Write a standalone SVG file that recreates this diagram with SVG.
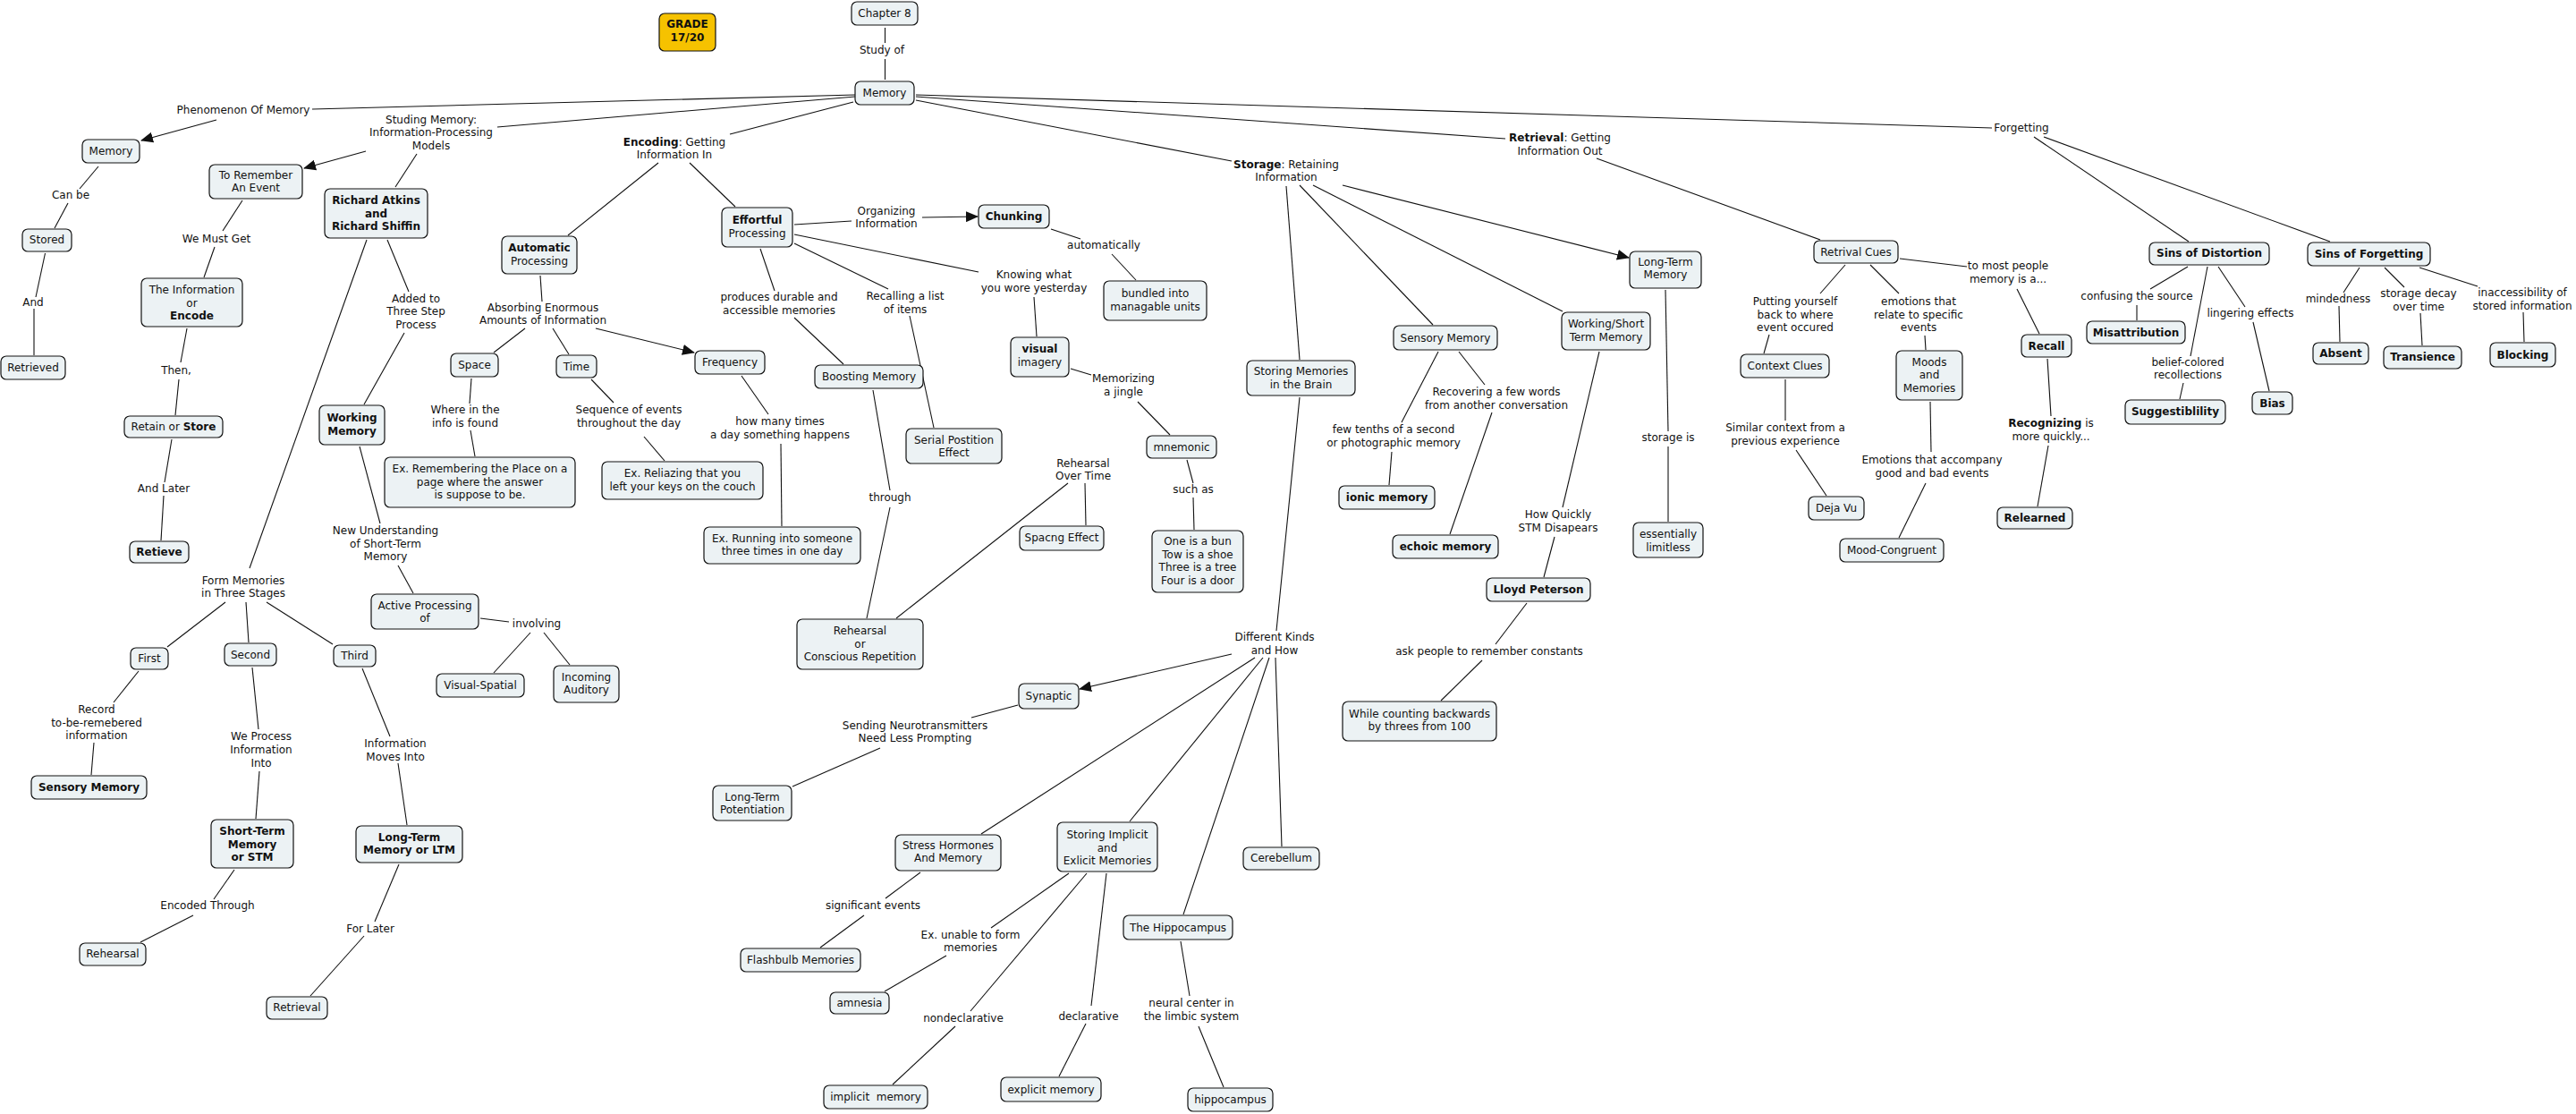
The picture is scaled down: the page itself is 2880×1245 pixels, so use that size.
<svg xmlns="http://www.w3.org/2000/svg" width="2880" height="1245" viewBox="0 0 2880 1245">
<style>
text{font-family:"DejaVu Sans","Verdana",sans-serif;font-size:12px;fill:#111;text-anchor:middle}
.n rect{fill:#ecf2f4;stroke:#111;stroke-width:1.2}
.g rect{fill:#f6c200;stroke:#111;stroke-width:1.2}
.b{font-weight:bold}
#connectors line{stroke:#111;stroke-width:1.1}
</style>
<defs>
<marker id="arr" markerWidth="14" markerHeight="12" refX="13" refY="6" orient="auto" markerUnits="userSpaceOnUse"><path d="M0,0 L14,6 L0,12 z" fill="#111"/></marker>
</defs>
<rect width="2880" height="1245" fill="#fff"/>
<g id="connectors">
<line x1="989.5" y1="31" x2="989.5" y2="48"/><line x1="989.5" y1="66" x2="989.5" y2="89"/>
<line x1="956" y1="106" x2="349" y2="122"/>
<line x1="242" y1="134" x2="158" y2="157" marker-end="url(#arr)"/>
<line x1="956" y1="108" x2="556" y2="142"/>
<line x1="409" y1="169" x2="340" y2="188" marker-end="url(#arr)"/>
<line x1="466" y1="172" x2="442" y2="209"/>
<line x1="954" y1="114" x2="816" y2="150"/>
<line x1="736" y1="182" x2="635" y2="263"/>
<line x1="771" y1="182" x2="822" y2="231"/>
<line x1="1024" y1="112" x2="1377" y2="180"/>
<line x1="1024" y1="108" x2="1683" y2="155"/>
<line x1="1024" y1="106" x2="2227" y2="143"/>
<line x1="110" y1="186" x2="89" y2="211"/><line x1="76" y1="227" x2="61" y2="255"/>
<line x1="50.5" y1="283" x2="40" y2="332"/><line x1="38" y1="345" x2="38" y2="397"/>
<line x1="271" y1="224" x2="249" y2="258"/><line x1="240" y1="276" x2="228" y2="310"/>
<line x1="209" y1="367" x2="202" y2="405"/><line x1="200" y1="424" x2="196" y2="464"/>
<line x1="192" y1="491" x2="184" y2="539"/><line x1="183" y1="554" x2="180" y2="604"/>
<line x1="410" y1="268" x2="279" y2="635"/>
<line x1="433" y1="268" x2="457" y2="326"/><line x1="452" y1="372" x2="407" y2="452"/>
<line x1="402" y1="499" x2="425" y2="585"/><line x1="445" y1="632" x2="462" y2="663"/>
<line x1="537" y1="691" x2="569" y2="695"/><line x1="593" y1="707" x2="552" y2="752"/><line x1="608" y1="707" x2="637" y2="743"/>
<line x1="252" y1="673" x2="187" y2="723"/><line x1="275" y1="673" x2="278" y2="718"/><line x1="298" y1="673" x2="372" y2="720"/>
<line x1="155" y1="750" x2="127" y2="785"/><line x1="105" y1="830" x2="102" y2="866"/>
<line x1="282" y1="746" x2="289" y2="815"/><line x1="290" y1="862" x2="286" y2="915"/>
<line x1="405" y1="747" x2="436" y2="823"/><line x1="445" y1="853" x2="455" y2="922"/>
<line x1="262" y1="972" x2="239" y2="1005"/><line x1="216" y1="1023" x2="157" y2="1053"/>
<line x1="446" y1="966" x2="419" y2="1030"/><line x1="407" y1="1046" x2="347" y2="1113"/>
<line x1="604" y1="308" x2="606" y2="337"/>
<line x1="587" y1="367" x2="552" y2="394"/><line x1="618" y1="367" x2="636" y2="396"/>
<line x1="666" y1="367" x2="776" y2="394" marker-end="url(#arr)"/>
<line x1="527" y1="423" x2="525" y2="451"/><line x1="526" y1="481" x2="531" y2="510"/>
<line x1="661" y1="424" x2="686" y2="450"/><line x1="720" y1="488" x2="743" y2="515"/>
<line x1="829" y1="420" x2="859" y2="463"/><line x1="873" y1="496" x2="874" y2="588"/>
<line x1="888" y1="251" x2="952" y2="247"/>
<line x1="1031" y1="243" x2="1093" y2="242" marker-end="url(#arr)"/>
<line x1="1175" y1="256" x2="1208" y2="267"/><line x1="1243" y1="284" x2="1270" y2="313"/>
<line x1="888" y1="262" x2="1094" y2="304"/><line x1="1156" y1="332" x2="1159" y2="376"/>
<line x1="888" y1="272" x2="993" y2="323"/><line x1="1017" y1="353" x2="1044" y2="478"/>
<line x1="850" y1="278" x2="866" y2="325"/><line x1="888" y1="355" x2="943" y2="407"/>
<line x1="976" y1="436" x2="995" y2="548"/><line x1="995" y1="567" x2="969" y2="691"/>
<line x1="1002" y1="691" x2="1194" y2="540"/><line x1="1213" y1="540" x2="1214" y2="587"/>
<line x1="1197" y1="412" x2="1220" y2="419"/><line x1="1272" y1="449" x2="1308" y2="486"/>
<line x1="1327" y1="514" x2="1334" y2="540"/><line x1="1334" y1="556" x2="1335" y2="592"/>
<line x1="1438" y1="208" x2="1453" y2="402"/>
<line x1="1453" y1="207" x2="1602" y2="363"/>
<line x1="1468" y1="207" x2="1747" y2="348"/>
<line x1="1501" y1="207" x2="1821" y2="288" marker-end="url(#arr)"/>
<line x1="1453" y1="444" x2="1427" y2="705"/>
<line x1="1377" y1="731" x2="1207" y2="770" marker-end="url(#arr)"/>
<line x1="1138" y1="788" x2="1086" y2="802"/><line x1="984" y1="836" x2="886" y2="879"/>
<line x1="1403" y1="735" x2="1097" y2="932"/>
<line x1="1412" y1="735" x2="1263" y2="918"/>
<line x1="1419" y1="735" x2="1323" y2="1022"/>
<line x1="1426" y1="735" x2="1433" y2="946"/>
<line x1="1029" y1="975" x2="990" y2="1004"/><line x1="966" y1="1023" x2="917" y2="1059"/>
<line x1="1195" y1="976" x2="1108" y2="1037"/><line x1="1058" y1="1068" x2="989" y2="1108"/>
<line x1="1215" y1="976" x2="1085" y2="1130"/><line x1="1068" y1="1147" x2="998" y2="1212"/>
<line x1="1237" y1="976" x2="1220" y2="1124"/><line x1="1214" y1="1144" x2="1184" y2="1203"/>
<line x1="1320" y1="1052" x2="1330" y2="1113"/><line x1="1340" y1="1147" x2="1368" y2="1215"/>
<line x1="1608" y1="393" x2="1567" y2="472"/><line x1="1556" y1="505" x2="1553" y2="542"/>
<line x1="1631" y1="393" x2="1660" y2="430"/><line x1="1668" y1="461" x2="1621" y2="597"/>
<line x1="1788" y1="393" x2="1747" y2="567"/><line x1="1738" y1="600" x2="1726" y2="645"/>
<line x1="1707" y1="674" x2="1672" y2="720"/><line x1="1657" y1="738" x2="1611" y2="783"/>
<line x1="1862" y1="324" x2="1865" y2="482"/><line x1="1865" y1="499" x2="1865" y2="583"/>
<line x1="1785" y1="177" x2="2035" y2="268"/>
<line x1="2063" y1="296" x2="2035" y2="328"/><line x1="1978" y1="374" x2="1972" y2="395"/>
<line x1="1996" y1="424" x2="1996" y2="470"/><line x1="2008" y1="503" x2="2042" y2="554"/>
<line x1="2091" y1="296" x2="2123" y2="328"/><line x1="2152" y1="375" x2="2153" y2="391"/>
<line x1="2158" y1="449" x2="2159" y2="505"/><line x1="2153" y1="540" x2="2123" y2="601"/>
<line x1="2124" y1="289" x2="2199" y2="298"/><line x1="2255" y1="323" x2="2280" y2="373"/>
<line x1="2289" y1="401" x2="2293" y2="465"/><line x1="2290" y1="498" x2="2278" y2="566"/>
<line x1="2274" y1="153" x2="2447" y2="270"/>
<line x1="2285" y1="153" x2="2605" y2="270"/>
<line x1="2446" y1="298" x2="2404" y2="323"/><line x1="2389" y1="341" x2="2389" y2="358"/>
<line x1="2468" y1="298" x2="2449" y2="398"/><line x1="2441" y1="428" x2="2437" y2="446"/>
<line x1="2480" y1="298" x2="2510" y2="343"/><line x1="2519" y1="360" x2="2537" y2="437"/>
<line x1="2638" y1="299" x2="2620" y2="327"/><line x1="2615" y1="342" x2="2616" y2="382"/>
<line x1="2666" y1="299" x2="2688" y2="321"/><line x1="2706" y1="350" x2="2708" y2="386"/>
<line x1="2705" y1="299" x2="2770" y2="320"/><line x1="2821" y1="349" x2="2822" y2="382"/>
</g>
<g id="n-chapter8" class="n"><rect x="952" y="2" width="74" height="26" rx="6"/><text x="989" y="19">Chapter 8</text></g>
<g id="n-grade" class="g"><rect x="737" y="15" width="63" height="42" rx="6"/><text class="b" x="768.5" y="31">GRADE</text><text class="b" x="768.5" y="46">17/20</text></g>
<g id="n-memory" class="n"><rect x="956" y="91" width="66" height="26" rx="6"/><text x="989" y="108">Memory</text></g>
<g id="n-memory-left" class="n"><rect x="92" y="156" width="64" height="26" rx="6"/><text x="124" y="173">Memory</text></g>
<g id="n-stored" class="n"><rect x="25" y="256" width="55" height="25" rx="6"/><text x="52.5" y="272">Stored</text></g>
<g id="n-retrieved" class="n"><rect x="1" y="398" width="72" height="26" rx="6"/><text x="37" y="415">Retrieved</text></g>
<g id="n-to-remember" class="n"><rect x="234" y="184" width="104" height="38" rx="6"/><text x="286" y="200">To Remember</text><text x="286" y="214">An Event</text></g>
<g id="n-the-info" class="n"><rect x="158" y="311" width="113" height="54" rx="6"/><text x="214.5" y="328">The Information</text><text x="214.5" y="343">or</text><text class="b" x="214.5" y="357">Encode</text></g>
<g id="n-retain" class="n"><rect x="139" y="465" width="110" height="24" rx="6"/><text x="194" y="481">Retain or <tspan class="b">Store</tspan></text></g>
<g id="n-retieve" class="n"><rect x="145" y="605" width="66" height="24" rx="6"/><text class="b" x="178" y="621">Retieve</text></g>
<g id="n-richard" class="n"><rect x="363" y="211" width="115" height="55" rx="6"/><text class="b" x="420.5" y="228">Richard Atkins</text><text class="b" x="420.5" y="243">and</text><text class="b" x="420.5" y="257">Richard Shiffin</text></g>
<g id="n-working-memory" class="n"><rect x="357" y="453" width="73" height="44" rx="6"/><text class="b" x="393.5" y="471">Working</text><text class="b" x="393.5" y="486">Memory</text></g>
<g id="n-active" class="n"><rect x="415" y="664" width="120" height="39" rx="6"/><text x="475" y="681">Active Processing</text><text x="475" y="695">of</text></g>
<g id="n-visual-spatial" class="n"><rect x="488" y="753" width="98" height="26" rx="6"/><text x="537" y="770">Visual-Spatial</text></g>
<g id="n-incoming" class="n"><rect x="619" y="744" width="73" height="41" rx="6"/><text x="655.5" y="761">Incoming</text><text x="655.5" y="775">Auditory</text></g>
<g id="n-first" class="n"><rect x="146" y="724" width="42" height="24" rx="6"/><text x="167" y="740">First</text></g>
<g id="n-second" class="n"><rect x="251" y="719" width="58" height="25" rx="6"/><text x="280" y="736">Second</text></g>
<g id="n-third" class="n"><rect x="373" y="721" width="47" height="24" rx="6"/><text x="396.5" y="737">Third</text></g>
<g id="n-sensory-left" class="n"><rect x="35" y="867" width="129" height="26" rx="6"/><text class="b" x="99.5" y="884">Sensory Memory</text></g>
<g id="n-stm" class="n"><rect x="236" y="916" width="92" height="54" rx="6"/><text class="b" x="282" y="933">Short-Term</text><text class="b" x="282" y="948">Memory</text><text class="b" x="282" y="962">or STM</text></g>
<g id="n-ltm-left" class="n"><rect x="398" y="923" width="119" height="41" rx="6"/><text class="b" x="457.5" y="940">Long-Term</text><text class="b" x="457.5" y="954">Memory or LTM</text></g>
<g id="n-rehearsal" class="n"><rect x="89" y="1054" width="74" height="25" rx="6"/><text x="126" y="1070">Rehearsal</text></g>
<g id="n-retrieval" class="n"><rect x="298" y="1114" width="68" height="25" rx="6"/><text x="332" y="1130">Retrieval</text></g>
<g id="n-automatic" class="n"><rect x="561" y="264" width="84" height="42" rx="6"/><text class="b" x="603" y="281">Automatic</text><text x="603" y="296">Processing</text></g>
<g id="n-space" class="n"><rect x="504" y="395" width="53" height="26" rx="6"/><text x="530.5" y="412">Space</text></g>
<g id="n-time" class="n"><rect x="622" y="397" width="45" height="25" rx="6"/><text x="644.5" y="414">Time</text></g>
<g id="n-frequency" class="n"><rect x="777" y="392" width="78" height="26" rx="6"/><text x="816" y="409">Frequency</text></g>
<g id="n-ex-remembering" class="n"><rect x="430" y="511" width="213" height="56" rx="6"/><text x="536.5" y="528">Ex. Remembering the Place on a</text><text x="536.5" y="543">page where the answer</text><text x="536.5" y="557">is suppose to be.</text></g>
<g id="n-ex-reliazing" class="n"><rect x="673" y="516" width="180" height="42" rx="6"/><text x="763" y="533">Ex. Reliazing that you</text><text x="763" y="548">left your keys on the couch</text></g>
<g id="n-ex-running" class="n"><rect x="787" y="589" width="175" height="41" rx="6"/><text x="874.5" y="606">Ex. Running into someone</text><text x="874.5" y="620">three times in one day</text></g>
<g id="n-effortful" class="n"><rect x="807" y="232" width="79" height="44" rx="6"/><text class="b" x="846.5" y="250">Effortful</text><text x="846.5" y="265">Processing</text></g>
<g id="n-chunking" class="n"><rect x="1094" y="229" width="79" height="26" rx="6"/><text class="b" x="1133.5" y="246">Chunking</text></g>
<g id="n-bundled" class="n"><rect x="1234" y="314" width="115" height="44" rx="6"/><text x="1291.5" y="332">bundled into</text><text x="1291.5" y="347">managable units</text></g>
<g id="n-visual-imagery" class="n"><rect x="1130" y="377" width="65" height="44" rx="6"/><text class="b" x="1162.5" y="394">visual</text><text x="1162.5" y="409">imagery</text></g>
<g id="n-boosting" class="n"><rect x="911" y="408" width="121" height="26" rx="6"/><text x="971.5" y="425">Boosting Memory</text></g>
<g id="n-serial" class="n"><rect x="1013" y="479" width="107" height="39" rx="6"/><text x="1066.5" y="496">Serial Postition</text><text x="1066.5" y="510">Effect</text></g>
<g id="n-mnemonic" class="n"><rect x="1282" y="487" width="78" height="25" rx="6"/><text x="1321" y="504">mnemonic</text></g>
<g id="n-one-bun" class="n"><rect x="1288" y="593" width="102" height="69" rx="6"/><text x="1339" y="609">One is a bun</text><text x="1339" y="624">Tow is a shoe</text><text x="1339" y="638">Three is a tree</text><text x="1339" y="653">Four is a door</text></g>
<g id="n-spacing" class="n"><rect x="1140" y="588" width="94" height="27" rx="6"/><text x="1187" y="605">Spacng Effect</text></g>
<g id="n-rehearsal-big" class="n"><rect x="891" y="692" width="141" height="56" rx="6"/><text x="961.5" y="709">Rehearsal</text><text x="961.5" y="724">or</text><text x="961.5" y="738">Conscious Repetition</text></g>
<g id="n-synaptic" class="n"><rect x="1139" y="764" width="67" height="28" rx="6"/><text x="1172.5" y="782">Synaptic</text></g>
<g id="n-ltp" class="n"><rect x="797" y="878" width="88" height="39" rx="6"/><text x="841" y="895">Long-Term</text><text x="841" y="909">Potentiation</text></g>
<g id="n-stress" class="n"><rect x="1001" y="933" width="118" height="40" rx="6"/><text x="1060" y="949">Stress Hormones</text><text x="1060" y="963">And Memory</text></g>
<g id="n-flashbulb" class="n"><rect x="828" y="1060" width="134" height="26" rx="6"/><text x="895" y="1077">Flashbulb Memories</text></g>
<g id="n-storing-implicit" class="n"><rect x="1182" y="919" width="112" height="55" rx="6"/><text x="1238" y="937">Storing Implicit</text><text x="1238" y="952">and</text><text x="1238" y="966">Exlicit Memories</text></g>
<g id="n-amnesia" class="n"><rect x="928" y="1109" width="66" height="24" rx="6"/><text x="961" y="1125">amnesia</text></g>
<g id="n-implicit" class="n"><rect x="921" y="1213" width="116" height="26" rx="6"/><text x="979" y="1230" xml:space="preserve">implicit  memory</text></g>
<g id="n-explicit" class="n"><rect x="1119" y="1204" width="112" height="27" rx="6"/><text x="1175" y="1222">explicit memory</text></g>
<g id="n-the-hippocampus" class="n"><rect x="1256" y="1023" width="122" height="27" rx="6"/><text x="1317" y="1041">The Hippocampus</text></g>
<g id="n-hippocampus" class="n"><rect x="1328" y="1216" width="95" height="26" rx="6"/><text x="1375.5" y="1233">hippocampus</text></g>
<g id="n-cerebellum" class="n"><rect x="1390" y="947" width="85" height="25" rx="6"/><text x="1432.5" y="963">Cerebellum</text></g>
<g id="n-storing-brain" class="n"><rect x="1394" y="403" width="121" height="39" rx="6"/><text x="1454.5" y="419">Storing Memories</text><text x="1454.5" y="434">in the Brain</text></g>
<g id="n-sensory-memory" class="n"><rect x="1558" y="364" width="116" height="27" rx="6"/><text x="1616" y="382">Sensory Memory</text></g>
<g id="n-ionic" class="n"><rect x="1497" y="543" width="107" height="26" rx="6"/><text class="b" x="1550.5" y="560">ionic memory</text></g>
<g id="n-echoic" class="n"><rect x="1557" y="598" width="118" height="26" rx="6"/><text class="b" x="1616" y="615">echoic memory</text></g>
<g id="n-working-short" class="n"><rect x="1746" y="349" width="99" height="42" rx="6"/><text x="1795.5" y="366">Working/Short</text><text x="1795.5" y="381">Term Memory</text></g>
<g id="n-lloyd" class="n"><rect x="1662" y="646" width="116" height="26" rx="6"/><text class="b" x="1720" y="663">Lloyd Peterson</text></g>
<g id="n-counting" class="n"><rect x="1501" y="784" width="172" height="44" rx="6"/><text x="1587" y="802">While counting backwards</text><text x="1587" y="816">by threes from 100</text></g>
<g id="n-ltm-right" class="n"><rect x="1822" y="281" width="80" height="41" rx="6"/><text x="1862" y="297">Long-Term</text><text x="1862" y="311">Memory</text></g>
<g id="n-limitless" class="n"><rect x="1826" y="584" width="78" height="39" rx="6"/><text x="1865" y="601">essentially</text><text x="1865" y="616">limitless</text></g>
<g id="n-retrival-cues" class="n"><rect x="2028" y="269" width="94" height="25" rx="6"/><text x="2075" y="286">Retrival Cues</text></g>
<g id="n-context" class="n"><rect x="1946" y="396" width="99" height="26" rx="6"/><text x="1995.5" y="413">Context Clues</text></g>
<g id="n-deja" class="n"><rect x="2022" y="555" width="62" height="26" rx="6"/><text x="2053" y="572">Deja Vu</text></g>
<g id="n-moods" class="n"><rect x="2120" y="392" width="74" height="55" rx="6"/><text x="2157" y="409">Moods</text><text x="2157" y="423">and</text><text x="2157" y="438">Memories</text></g>
<g id="n-mood-congruent" class="n"><rect x="2057" y="602" width="116" height="26" rx="6"/><text x="2115" y="619">Mood-Congruent</text></g>
<g id="n-recall" class="n"><rect x="2260" y="374" width="56" height="25" rx="6"/><text class="b" x="2288" y="391">Recall</text></g>
<g id="n-relearned" class="n"><rect x="2233" y="567" width="84" height="24" rx="6"/><text class="b" x="2275" y="583">Relearned</text></g>
<g id="n-sins-distortion" class="n"><rect x="2403" y="271" width="134" height="25" rx="6"/><text class="b" x="2470" y="287">Sins of Distortion</text></g>
<g id="n-sins-forgetting" class="n"><rect x="2580" y="271" width="137" height="26" rx="6"/><text class="b" x="2648.5" y="288">Sins of Forgetting</text></g>
<g id="n-misattribution" class="n"><rect x="2333" y="359" width="110" height="25" rx="6"/><text class="b" x="2388" y="376">Misattribution</text></g>
<g id="n-suggestibility" class="n"><rect x="2376" y="447" width="112" height="27" rx="6"/><text class="b" x="2432" y="464">Suggestiblility</text></g>
<g id="n-bias" class="n"><rect x="2518" y="438" width="45" height="25" rx="6"/><text class="b" x="2540.5" y="455">Bias</text></g>
<g id="n-absent" class="n"><rect x="2586" y="383" width="62" height="24" rx="6"/><text class="b" x="2617" y="399">Absent</text></g>
<g id="n-transience" class="n"><rect x="2665" y="387" width="87" height="25" rx="6"/><text class="b" x="2708.5" y="403">Transience</text></g>
<g id="n-blocking" class="n"><rect x="2784" y="383" width="73" height="27" rx="6"/><text class="b" x="2820.5" y="401">Blocking</text></g>
<g id="labels">
<g id="l-study-of"><text x="986" y="60">Study of</text></g>
<g id="l-phenomenon"><text x="272" y="127">Phenomenon Of Memory</text></g>
<g id="l-studing"><text x="482" y="138">Studing Memory:</text><text x="482" y="152">Information-Processing</text><text x="482" y="167">Models</text></g>
<g id="l-can-be"><text x="79" y="222">Can be</text></g>
<g id="l-and"><text x="37" y="342">And</text></g>
<g id="l-we-must-get"><text x="242" y="271">We Must Get</text></g>
<g id="l-then"><text x="197" y="418">Then,</text></g>
<g id="l-and-later"><text x="183" y="550">And Later</text></g>
<g id="l-added"><text x="465" y="338">Added to</text><text x="465" y="352">Three Step</text><text x="465" y="367">Process</text></g>
<g id="l-new-understanding"><text x="431" y="597">New Understanding</text><text x="431" y="612">of Short-Term</text><text x="431" y="626">Memory</text></g>
<g id="l-involving"><text x="600" y="701">involving</text></g>
<g id="l-form-memories"><text x="272" y="653">Form Memories</text><text x="272" y="667">in Three Stages</text></g>
<g id="l-record"><text x="108" y="797">Record</text><text x="108" y="812">to-be-remebered</text><text x="108" y="826">information</text></g>
<g id="l-we-process"><text x="292" y="827">We Process</text><text x="292" y="842">Information</text><text x="292" y="857">Into</text></g>
<g id="l-info-moves"><text x="442" y="835">Information</text><text x="442" y="850">Moves Into</text></g>
<g id="l-encoded-through"><text x="232" y="1016">Encoded Through</text></g>
<g id="l-for-later"><text x="414" y="1042">For Later</text></g>
<g id="l-encoding"><text x="754" y="163"><tspan class="b">Encoding</tspan>: Getting</text><text x="754" y="177">Information In</text></g>
<g id="l-absorbing"><text x="607" y="348">Absorbing Enormous</text><text x="607" y="362">Amounts of Information</text></g>
<g id="l-where"><text x="520" y="462">Where in the</text><text x="520" y="477">info is found</text></g>
<g id="l-sequence"><text x="703" y="462">Sequence of events</text><text x="703" y="477">throughout the day</text></g>
<g id="l-how-many"><text x="872" y="475">how many times</text><text x="872" y="490">a day something happens</text></g>
<g id="l-organizing"><text x="991" y="240">Organizing</text><text x="991" y="254">Information</text></g>
<g id="l-automatically"><text x="1234" y="278">automatically</text></g>
<g id="l-knowing"><text x="1156" y="311">Knowing what</text><text x="1156" y="326">you wore yesterday</text></g>
<g id="l-recalling"><text x="1012" y="335">Recalling a list</text><text x="1012" y="350">of items</text></g>
<g id="l-produces"><text x="871" y="336">produces durable and</text><text x="871" y="351">accessible memories</text></g>
<g id="l-through"><text x="995" y="560">through</text></g>
<g id="l-memorizing"><text x="1256" y="427">Memorizing</text><text x="1256" y="442">a jingle</text></g>
<g id="l-such-as"><text x="1334" y="551">such as</text></g>
<g id="l-rehearsal-over-time"><text x="1211" y="522">Rehearsal</text><text x="1211" y="536">Over Time</text></g>
<g id="l-storage"><text x="1438" y="188"><tspan class="b">Storage</tspan>: Retaining</text><text x="1438" y="202">Information</text></g>
<g id="l-different-kinds"><text x="1425" y="716">Different Kinds</text><text x="1425" y="731">and How</text></g>
<g id="l-sending"><text x="1023" y="815">Sending Neurotransmitters</text><text x="1023" y="829">Need Less Prompting</text></g>
<g id="l-significant"><text x="976" y="1016">significant events</text></g>
<g id="l-unable"><text x="1085" y="1049">Ex. unable to form</text><text x="1085" y="1063">memories</text></g>
<g id="l-nondeclarative"><text x="1077" y="1142">nondeclarative</text></g>
<g id="l-declarative"><text x="1217" y="1140">declarative</text></g>
<g id="l-neural"><text x="1332" y="1125">neural center in</text><text x="1332" y="1140">the limbic system</text></g>
<g id="l-few-tenths"><text x="1558" y="484">few tenths of a second</text><text x="1558" y="499">or photographic memory</text></g>
<g id="l-recovering"><text x="1673" y="442">Recovering a few words</text><text x="1673" y="457">from another conversation</text></g>
<g id="l-how-quickly"><text x="1742" y="579">How Quickly</text><text x="1742" y="594">STM Disapears</text></g>
<g id="l-ask-people"><text x="1665" y="732">ask people to remember constants</text></g>
<g id="l-storage-is"><text x="1865" y="493">storage is</text></g>
<g id="l-retrieval"><text x="1744" y="158"><tspan class="b">Retrieval</tspan>: Getting</text><text x="1744" y="173">Information Out</text></g>
<g id="l-putting"><text x="2007" y="341">Putting yourself</text><text x="2007" y="356">back to where</text><text x="2007" y="370">event occured</text></g>
<g id="l-emotions-relate"><text x="2145" y="341">emotions that</text><text x="2145" y="356">relate to specific</text><text x="2145" y="370">events</text></g>
<g id="l-similar"><text x="1996" y="482">Similar context from a</text><text x="1996" y="497">previous experience</text></g>
<g id="l-emotions-accompany"><text x="2160" y="518">Emotions that accompany</text><text x="2160" y="533">good and bad events</text></g>
<g id="l-to-most"><text x="2245" y="301">to most people</text><text x="2245" y="316">memory is a...</text></g>
<g id="l-recognizing"><text x="2293" y="477"><tspan class="b">Recognizing</tspan> is</text><text x="2293" y="492">more quickly...</text></g>
<g id="l-forgetting"><text x="2260" y="147">Forgetting</text></g>
<g id="l-confusing"><text x="2389" y="335">confusing the source</text></g>
<g id="l-belief"><text x="2446" y="409">belief-colored</text><text x="2446" y="423">recollections</text></g>
<g id="l-lingering"><text x="2516" y="354">lingering effects</text></g>
<g id="l-mindedness"><text x="2614" y="338">mindedness</text></g>
<g id="l-storage-decay"><text x="2704" y="332">storage decay</text><text x="2704" y="347">over time</text></g>
<g id="l-inaccessibility"><text x="2820" y="331">inaccessibility of</text><text x="2820" y="346">stored information</text></g>
</g>
</svg>
